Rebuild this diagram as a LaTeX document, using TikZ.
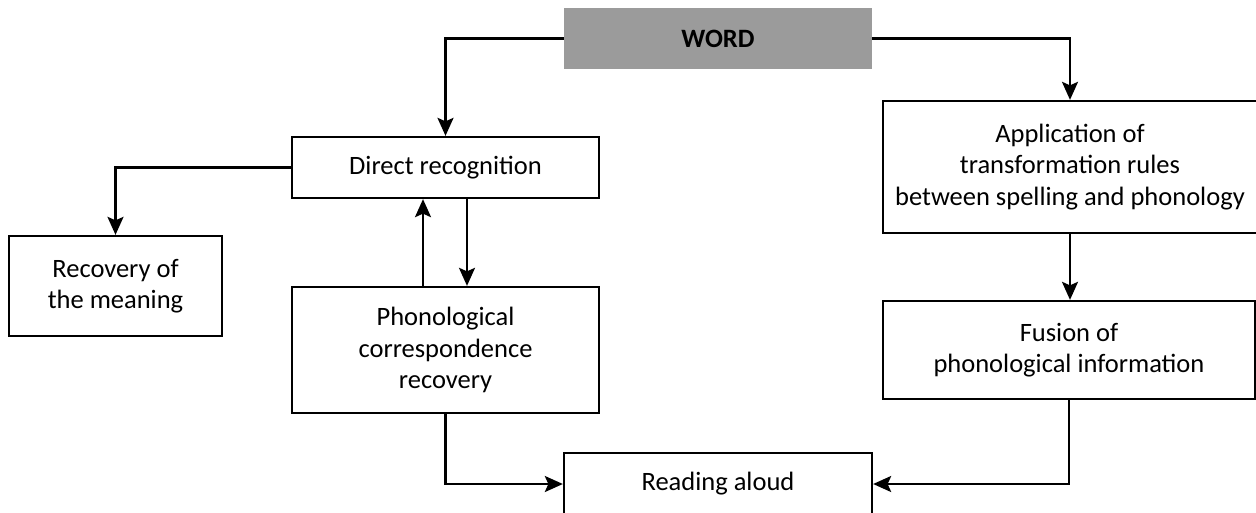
\documentclass[tikz,border=0pt]{standalone}
\usepackage{fontspec}
\setmainfont{Carlito}
\usetikzlibrary{arrows.meta}
\definecolor{wordgray}{HTML}{9B9B9B}
\begin{document}
\begin{tikzpicture}[x=1pt,y=-1pt,
  font=\fontsize{26.5}{31.5}\selectfont,
  box/.style={draw=black, line width=2.3pt, rectangle, align=center,
    inner sep=0pt, fill=white},
  arr/.style={line width=2.3pt, -{Stealth[length=18pt,width=16pt,inset=3.5pt]}}]
\useasboundingbox (0,0) rectangle (1256,512);

% boxes
\node[rectangle, fill=wordgray, minimum width=308pt, minimum height=61pt,
  inner sep=0pt, font=\fontsize{26.5}{31.5}\selectfont\bfseries] (word) at (718,38.5) {WORD};
\node[box, minimum width=307pt, minimum height=61pt] (direct) at (445.5,167.5) {Direct recognition};
\node[box, minimum width=213pt, minimum height=100pt] (recov) at (115.5,286) {Recovery of\\the meaning};
\node[box, minimum width=307pt, minimum height=126pt] (phon) at (445.5,350) {Phonological\\correspondence\\recovery};
\node[box, minimum width=374pt, minimum height=132pt] (appl) at (1070,167) {Application of\\transformation rules\\between spelling and phonology};
\node[box, minimum width=372pt, minimum height=98pt] (fusion) at (1069,350) {Fusion of\\phonological information};
\node[box, minimum width=308pt, minimum height=62pt] (read) at (718,484) {Reading aloud};

% columns of the two arrows between recognition and phonology
\coordinate (upx) at (423,0);
\coordinate (downx) at (467,0);

% connectors
\draw[arr] (word.west) -| (direct.north);
\draw[arr] (word.east) -| (appl.north);
\draw[arr] (direct.west) -| (recov.north);
\draw[arr] (upx |- phon.north) -- (upx |- direct.south);
\draw[arr] (downx |- direct.south) -- (downx |- phon.north);
\draw[arr] (appl.south) -- (appl.south |- fusion.north);
\draw[arr] (phon.south) |- (read.west);
\draw[arr] (fusion.south) |- (read.east);
\end{tikzpicture}
\end{document}
